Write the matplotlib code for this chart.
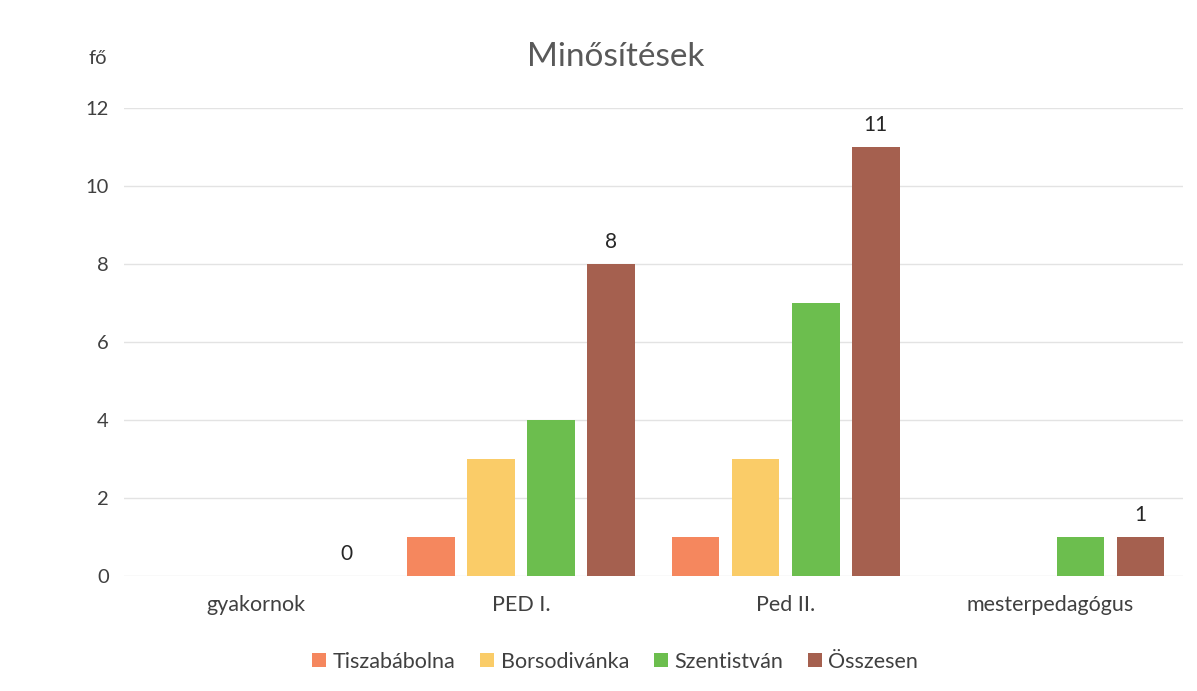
import numpy as np
import matplotlib
matplotlib.use('Agg')
import matplotlib.pyplot as plt

# data
categories = ['gyakornok', 'PED I.', 'Ped II.', 'mesterpedagógus']
series_names = ['Tiszabábolna', 'Borsodivánka', 'Szentistván', 'Összesen']
tiszababolna = [0, 1, 1, 0]
borsodivanka = [0, 3, 3, 0]
szentistvan = [0, 4, 7, 1]
osszesen = [0, 8, 11, 1]
yticks = [0, 2, 4, 6, 8, 10, 12]

colors = ['#F5875E', '#FACC68', '#6CBE4E', '#A5604F']
txt = '#404040'

plt.rcParams['font.family'] = ['Lato', 'DejaVu Sans']

fig = plt.figure(figsize=(11.97, 6.91), dpi=100)
ax = fig.add_axes([0.1036, 0.1664, 0.8844, 0.6773])

x = np.arange(len(categories))
w = 0.18
step = 0.227
values = [tiszababolna, borsodivanka, szentistvan, osszesen]
for i, (name, vals) in enumerate(zip(series_names, values)):
    off = (i - 1.5) * step
    ax.bar(x + off, vals, w, color=colors[i], label=name, zorder=3)
    if name == 'Összesen':
        for xi, v in zip(x, vals):
            ax.text(xi + off, v + 0.3, str(v), ha='center', va='bottom',
                    fontsize=15, color='#262626')

ax.set_xlim(-0.5, len(categories) - 0.5)
ax.set_ylim(0, 12)
ax.set_yticks(yticks)
ax.set_xticks(x)
ax.set_xticklabels(categories, fontsize=15.5)
ax.tick_params(axis='both', length=0, labelsize=14.5, labelcolor=txt)
ax.tick_params(axis='x', labelsize=15.5, pad=14)
ax.tick_params(axis='y', pad=11)
ax.yaxis.grid(True, color='#E3E3E3', linewidth=1, zorder=0)
for s in ax.spines.values():
    s.set_visible(False)

ax.text(0.464, 1.109, 'Minősítések', transform=ax.transAxes, fontsize=24,
        color='#595959', ha='center', va='center')
ax.text(-0.0245, 1.105, 'fő', transform=ax.transAxes, fontsize=14.5,
        color=txt, ha='center', va='center')

ax.legend(loc='upper center', bbox_to_anchor=(0.464, -0.12), ncol=4,
          frameon=False, fontsize=15.5, handlelength=0.65, handleheight=0.65,
          handletextpad=0.3, columnspacing=1.15, labelcolor=txt)

fig.savefig('out.png', dpi=100)
